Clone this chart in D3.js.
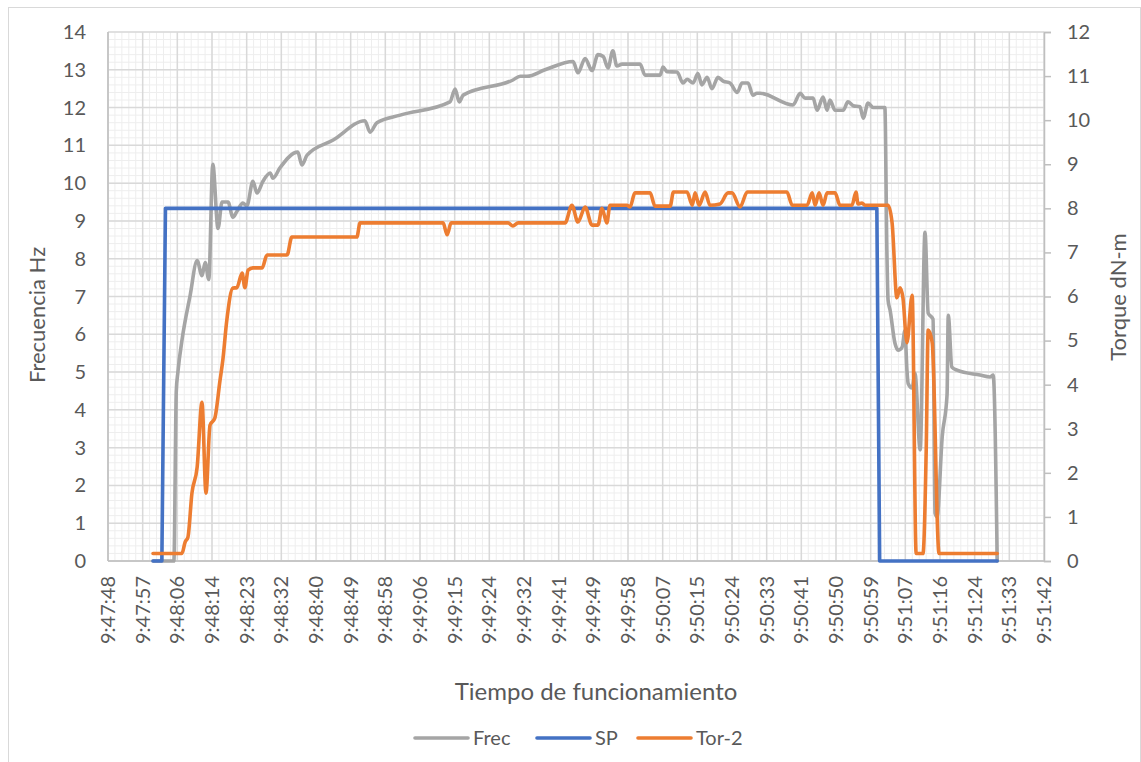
<!DOCTYPE html>
<html>
<head>
<meta charset="utf-8">
<script src="https://cdn.jsdelivr.net/npm/d3@7"></script>
<style>
  body { margin: 0; background: #fff; }
  text { font-family: Lato, "Open Sans", sans-serif; fill: #595959; }
</style>
</head>
<body>
<svg width="1141" height="762"></svg>
<script>
// time in seconds after 9:47:48
const xLabels = ["9:47:48","9:47:57","9:48:06","9:48:14","9:48:23","9:48:32","9:48:40",
  "9:48:49","9:48:58","9:49:06","9:49:15","9:49:24","9:49:32","9:49:41","9:49:49",
  "9:49:58","9:50:07","9:50:15","9:50:24","9:50:33","9:50:41","9:50:50","9:50:59",
  "9:51:07","9:51:16","9:51:24","9:51:33","9:51:42"];
const leftTicks = [0,1,2,3,4,5,6,7,8,9,10,11,12,13,14];
const rightTicks = [0,1,2,3,4,5,6,7,8,9,10,11,12];

const frecT = [11.7,16.9,17.5,17.9,19.0,20.9,22.7,23.9,24.7,25.6,26.6,27.9,28.9,30.4,31.6,32.6,
  34.1,35.1,36.6,37.6,39.1,40.9,41.6,43.3,47.8,48.8,50.1,56.6,64.5,65.8,67.5,73.3,85.7,87.0,
  88.0,89.0,101.4,103.2,104.9,109.4,116.4,117.6,119.4,121.1,122.6,123.9,125.1,126.3,127.3,
  128.6,133.1,134.3,138.1,138.8,139.8,142.3,143.8,144.8,146.3,147.5,148.5,149.8,151.0,152.5,
  153.8,155.5,157.3,158.5,160.0,161.2,162.2,163.0,171.2,173.0,174.2,176.2,177.2,178.7,179.7,
  180.4,181.7,183.7,184.9,186.2,187.9,188.7,189.9,191.2,194.1,194.6,194.9,195.4,196.6,197.4,
  198.4,199.1,199.6,199.9,200.9,201.6,202.9,204.1,204.9,206.1,206.6,207.1,208.4,209.6,209.9,
  210.8,212.1,217.8,220.3,221.1,222.1];
const frecV = [0,0,4.5,5.0,5.9,7.0,7.95,7.55,7.9,7.45,10.5,8.8,9.5,9.5,9.1,9.25,
  9.47,9.4,10.05,9.74,10.05,10.27,10.13,10.4,10.82,10.48,10.74,11.14,11.65,11.35,11.6,11.8,12.15,12.49,
  12.15,12.33,12.73,12.83,12.83,13.0,13.22,12.92,13.3,12.98,13.4,13.35,13.05,13.5,13.1,
  13.15,13.15,12.86,12.86,13.07,12.95,12.94,12.65,12.75,12.65,12.9,12.6,12.8,12.5,12.8,
  12.7,12.65,12.4,12.65,12.65,12.33,12.38,12.38,12.07,12.38,12.25,12.25,11.93,12.28,11.93,
  12.2,11.93,11.93,12.15,12.05,12.02,11.72,12.12,12.0,12.0,8.2,6.9,6.64,5.77,5.58,
  5.66,6.1,5.05,4.7,4.58,4.97,2.94,8.7,6.56,6.4,1.27,1.17,3.3,4.4,6.5,
  5.13,5.05,4.92,4.87,4.92,0];

const spT = [11.7,13.9,14.8,192.1,192.8,222.1];
const spV = [0,0,8,8,0,0];

const torT = [11.7,18.9,19.7,20.4,21.4,22.7,23.9,24.9,25.9,27.1,28.4,29.1,30.1,31.6,32.6,33.9,
  34.6,35.4,36.6,38.9,40.1,45.1,46.3,62.5,63.3,84.0,85.0,86.0,100.2,101.4,102.7,114.4,116.1,
  117.6,119.4,121.1,122.6,123.6,124.8,125.6,129.8,130.6,131.8,135.6,136.8,140.6,141.4,144.8,
  146.1,146.8,147.8,149.3,150.5,153.0,155.0,156.0,158.0,159.8,169.7,171.0,174.7,176.0,176.7,
  177.7,178.7,179.7,181.7,182.9,185.9,186.9,187.4,188.4,189.2,194.9,195.9,197.1,197.9,198.6,
  199.6,200.9,201.9,203.6,204.4,204.9,205.9,207.6,222.1];
const torV = [0.17,0.17,0.43,0.54,1.54,2.13,3.6,1.54,3.08,3.24,4.1,4.56,5.47,6.19,6.2,6.53,
  6.2,6.6,6.65,6.65,6.94,6.94,7.35,7.35,7.67,7.67,7.4,7.67,7.67,7.6,7.67,7.67,8.07,
  7.69,8.03,7.62,7.62,8.0,7.67,8.07,8.07,8.03,8.35,8.35,8.05,8.05,8.37,8.37,
  8.07,8.35,8.07,8.37,8.07,8.1,8.35,8.35,8.03,8.37,8.37,8.07,8.07,8.35,8.07,
  8.35,8.07,8.35,8.35,8.07,8.07,8.37,8.1,8.12,8.07,8.07,7.67,5.97,6.2,5.97,
  4.95,6.03,0.17,0.17,2.5,5.24,4.95,0.17,0.17];

const svg = d3.select("svg");
const W = 1141, H = 762;
const pLeft = 108, pRight = 1044, pTop = 32, pBottom = 561;

// chart border
svg.append("rect")
  .attr("x", 8.5).attr("y", 7.5).attr("width", W - 9).attr("height", H - 6)
  .attr("fill", "none").attr("stroke", "#d9d9d9");

const x = d3.scaleLinear().domain([0.48, 233.76]).range([pLeft, pRight]);
const yL = d3.scaleLinear().domain([0, 14]).range([pBottom, pTop]);
const yR = d3.scaleLinear().domain([0, 12]).range([pBottom, pTop]);

const xTickVals = xLabels.map((d, i) => 0.48 + i * 8.64);

// minor gridlines
const g = svg.append("g");
const minorX = d3.range(0, 27 * 5 + 1).map((i) => 0.48 + i * 8.64 / 5);
const minorY = d3.range(0, 14 * 5 + 1).map((i) => i / 5);
g.selectAll(".mx").data(minorX).enter().append("line")
  .attr("x1", (d) => x(d)).attr("x2", (d) => x(d))
  .attr("y1", pTop).attr("y2", pBottom)
  .attr("stroke", "#eeeeee").attr("stroke-width", 1);
g.selectAll(".my").data(minorY).enter().append("line")
  .attr("y1", (d) => yL(d)).attr("y2", (d) => yL(d))
  .attr("x1", pLeft).attr("x2", pRight)
  .attr("stroke", "#eeeeee").attr("stroke-width", 1);

// major gridlines
g.selectAll(".gx").data(xTickVals).enter().append("line")
  .attr("x1", (d) => x(d)).attr("x2", (d) => x(d))
  .attr("y1", pTop).attr("y2", pBottom)
  .attr("stroke", "#d9d9d9").attr("stroke-width", 1.5);
g.selectAll(".gy").data(leftTicks).enter().append("line")
  .attr("y1", (d) => yL(d)).attr("y2", (d) => yL(d))
  .attr("x1", pLeft).attr("x2", pRight)
  .attr("stroke", "#d9d9d9").attr("stroke-width", 1.5);

// axis lines
svg.append("line").attr("x1", pLeft).attr("x2", pLeft).attr("y1", pTop).attr("y2", pBottom)
  .attr("stroke", "#bfbfbf").attr("stroke-width", 1.5);
svg.append("line").attr("x1", pLeft).attr("x2", pRight).attr("y1", pBottom).attr("y2", pBottom)
  .attr("stroke", "#bfbfbf").attr("stroke-width", 1.5);

// right axis
const axR = d3.axisRight(yR).tickValues(rightTicks).tickSize(7).tickPadding(16);
const gR = svg.append("g").attr("transform", `translate(${pRight},0)`).call(axR);
gR.select(".domain").attr("stroke", "#bfbfbf").attr("stroke-width", 1.5);
gR.selectAll(".tick line").attr("stroke", "#bfbfbf").attr("stroke-width", 1.5);
gR.selectAll(".tick text").style("font-size", "20px").attr("fill", "#595959")
  .style("font-family", "Lato, sans-serif");

// left tick labels
svg.append("g").selectAll("text").data(leftTicks).enter().append("text")
  .attr("x", 86).attr("y", (d) => yL(d)).attr("dy", "0.35em")
  .attr("text-anchor", "end").style("font-size", "20px")
  .text((d) => d);

// x tick labels (rotated)
svg.append("g").selectAll("text").data(xTickVals).enter().append("text")
  .attr("transform", (d) => `translate(${x(d)},576) rotate(-90)`)
  .attr("dy", "0.35em").attr("text-anchor", "end").style("font-size", "20px")
  .text((d, i) => xLabels[i]);

// axis titles
svg.append("text").attr("x", 596).attr("y", 700).attr("text-anchor", "middle")
  .style("font-size", "24px").text("Tiempo de funcionamiento");
svg.append("text").attr("transform", "translate(45,315) rotate(-90)")
  .attr("text-anchor", "middle").style("font-size", "22px").text("Frecuencia Hz");
svg.append("text").attr("transform", "translate(1126,297) rotate(-90)")
  .attr("text-anchor", "middle").style("font-size", "22px").text("Torque dN-m");

// series (Excel smoothed lines for Frec and Tor-2)
const lineL = d3.line().curve(d3.curveMonotoneX).x((d) => x(d[0])).y((d) => yL(d[1]));
const lineR = d3.line().curve(d3.curveMonotoneX).x((d) => x(d[0])).y((d) => yR(d[1]));
const lineStep = d3.line().x((d) => x(d[0])).y((d) => yR(d[1]));
const series = [
  { name: "Frec", color: "#a5a5a5", pts: d3.zip(frecT, frecV), line: lineL },
  { name: "SP", color: "#4472c4", pts: d3.zip(spT, spV), line: lineStep },
  { name: "Tor-2", color: "#ed7d31", pts: d3.zip(torT, torV), line: lineR }
];
svg.append("g").selectAll("path").data(series).enter().append("path")
  .attr("d", (d) => d.line(d.pts))
  .attr("fill", "none").attr("stroke", (d) => d.color)
  .attr("stroke-width", 3.6).attr("stroke-linejoin", "round").attr("stroke-linecap", "round");

// legend
const legX = [415, 537, 638];
const leg = svg.append("g").selectAll("g").data(series).enter().append("g")
  .attr("transform", (d, i) => `translate(${legX[i]},738)`);
leg.append("line").attr("x1", 0).attr("x2", 53).attr("stroke", (d) => d.color)
  .attr("stroke-width", 3.6).attr("stroke-linecap", "round");
leg.append("text").attr("x", 58).attr("dy", "0.35em").style("font-size", "20px")
  .text((d) => d.name);
</script>
</body>
</html>
